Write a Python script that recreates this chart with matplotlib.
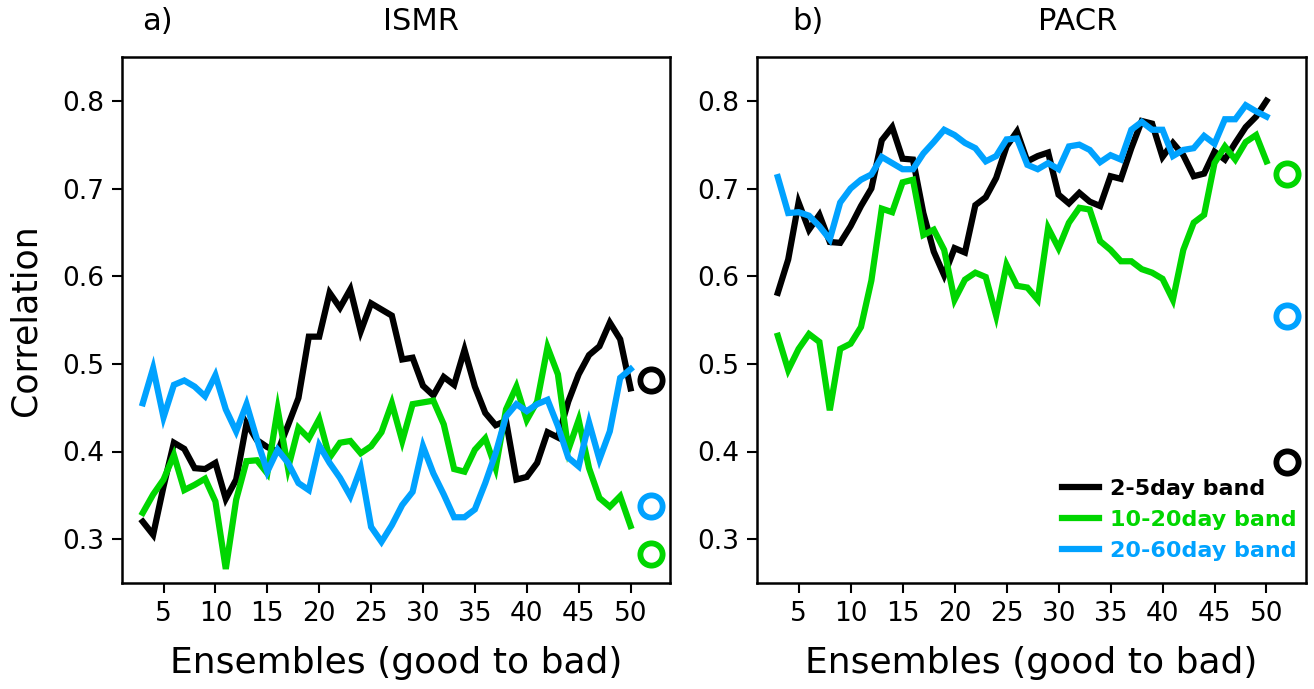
import numpy as np
import matplotlib
matplotlib.use('Agg')
from matplotlib import pyplot as plt

# ensemble index (good to bad)
ens = np.arange(3, 51)

# a) ISMR
ismr_2_5 = [0.320, 0.305, 0.360, 0.410, 0.403, 0.381, 0.380, 0.387, 0.346, 0.368,
            0.432, 0.413, 0.405, 0.400, 0.430, 0.461, 0.531, 0.531, 0.581, 0.564,
            0.585, 0.537, 0.569, 0.562, 0.555, 0.505, 0.507, 0.475, 0.464, 0.485,
            0.476, 0.516, 0.474, 0.444, 0.430, 0.435, 0.368, 0.371, 0.387, 0.422,
            0.416, 0.457, 0.488, 0.510, 0.520, 0.547, 0.528, 0.472]
ismr_10_20 = [0.330, 0.351, 0.368, 0.396, 0.356, 0.362, 0.369, 0.343, 0.266, 0.345,
              0.389, 0.390, 0.375, 0.448, 0.381, 0.427, 0.415, 0.437, 0.393, 0.410,
              0.412, 0.398, 0.406, 0.422, 0.455, 0.412, 0.454, 0.456, 0.458, 0.431,
              0.380, 0.377, 0.402, 0.415, 0.381, 0.448, 0.474, 0.436, 0.457, 0.519,
              0.488, 0.402, 0.436, 0.381, 0.347, 0.337, 0.349, 0.315]
ismr_20_60 = [0.455, 0.495, 0.439, 0.476, 0.481, 0.474, 0.463, 0.487, 0.448, 0.423,
              0.454, 0.414, 0.377, 0.402, 0.387, 0.364, 0.356, 0.407, 0.387, 0.370,
              0.349, 0.381, 0.314, 0.297, 0.316, 0.339, 0.354, 0.406, 0.375, 0.351,
              0.325, 0.325, 0.334, 0.364, 0.398, 0.440, 0.454, 0.446, 0.454, 0.459,
              0.429, 0.393, 0.383, 0.433, 0.391, 0.423, 0.484, 0.494]
ismr_all = [0.482, 0.283, 0.338]

# b) PACR
pacr_2_5 = [0.581, 0.619, 0.684, 0.653, 0.670, 0.639, 0.638, 0.657, 0.680, 0.700,
            0.755, 0.770, 0.734, 0.733, 0.672, 0.628, 0.601, 0.632, 0.627, 0.681,
            0.690, 0.712, 0.748, 0.765, 0.731, 0.737, 0.741, 0.693, 0.683, 0.695,
            0.685, 0.680, 0.714, 0.711, 0.746, 0.777, 0.774, 0.736, 0.752, 0.738,
            0.714, 0.717, 0.742, 0.733, 0.752, 0.770, 0.782, 0.800]
pacr_10_20 = [0.532, 0.493, 0.517, 0.534, 0.525, 0.447, 0.517, 0.523, 0.542, 0.595,
              0.677, 0.673, 0.707, 0.710, 0.647, 0.653, 0.630, 0.573, 0.596, 0.604,
              0.599, 0.555, 0.613, 0.589, 0.587, 0.573, 0.655, 0.632, 0.661, 0.678,
              0.676, 0.640, 0.630, 0.617, 0.617, 0.608, 0.604, 0.597, 0.573, 0.630,
              0.661, 0.670, 0.729, 0.748, 0.733, 0.753, 0.761, 0.731]
pacr_20_60 = [0.713, 0.672, 0.673, 0.669, 0.657, 0.642, 0.684, 0.700, 0.710, 0.716,
              0.736, 0.729, 0.722, 0.722, 0.740, 0.753, 0.767, 0.761, 0.752, 0.746,
              0.731, 0.737, 0.756, 0.757, 0.727, 0.722, 0.729, 0.722, 0.748, 0.750,
              0.744, 0.730, 0.738, 0.733, 0.767, 0.776, 0.767, 0.767, 0.737, 0.744,
              0.746, 0.760, 0.751, 0.779, 0.779, 0.795, 0.788, 0.782]
pacr_all = [0.388, 0.716, 0.555]

all_x = 52
labels = ['2-5day band', '10-20day band', '20-60day band']
colors = ['black', '#00d600', '#00a2ff']
xticks = np.arange(5, 51, 5)
yticks = [0.3, 0.4, 0.5, 0.6, 0.7, 0.8]

plt.rcParams['font.family'] = ['DejaVu Sans']

fig = plt.figure(figsize=(13.14, 6.89), dpi=100)
axa = fig.add_axes([122/1314, 1-583/689, 548/1314, 526/689])
axb = fig.add_axes([757/1314, 1-583/689, 549/1314, 526/689])

panels = [(axa, [ismr_2_5, ismr_10_20, ismr_20_60], ismr_all),
          (axb, [pacr_2_5, pacr_10_20, pacr_20_60], pacr_all)]

for ax, series, allv in panels:
    for s, c, l in zip(series, colors, labels):
        ax.plot(ens, s, color=c, lw=4.5, label=l, solid_joinstyle='miter')
    # circle = value for all ensembles
    for v, c in zip(allv, colors):
        ax.plot(all_x, v, 'o', ms=16, mfc='none', mec=c, mew=4.2)
    ax.set_xlim(1, 53.8)
    ax.set_ylim(0.25, 0.85)
    ax.set_xticks(xticks)
    ax.set_yticks(yticks)
    ax.tick_params(labelsize=19, length=7, width=1.5, pad=6)
    for sp in ax.spines.values():
        sp.set_linewidth(1.8)
    ax.set_xlabel('Ensembles (good to bad)', fontsize=26, labelpad=14)

axa.set_ylabel('Correlation', fontsize=25, labelpad=14)

fig.text(157/1314, 1-22/689, 'a)', fontsize=22, ha='center', va='center')
fig.text(421/1314, 1-22/689, 'ISMR', fontsize=22, ha='center', va='center')
fig.text(808/1314, 1-22/689, 'b)', fontsize=22, ha='center', va='center')
fig.text(1078/1314, 1-22/689, 'PACR', fontsize=22, ha='center', va='center')

leg = axb.legend(loc='lower right', frameon=False, handlelength=1.7,
                 borderaxespad=0.0, labelspacing=0.5, handletextpad=0.5,
                 bbox_to_anchor=(1.0, 0.025),
                 prop={'weight': 'bold', 'size': 16})
for txt, c in zip(leg.get_texts(), colors):
    txt.set_color(c)

fig.savefig('out.png', dpi=100)
